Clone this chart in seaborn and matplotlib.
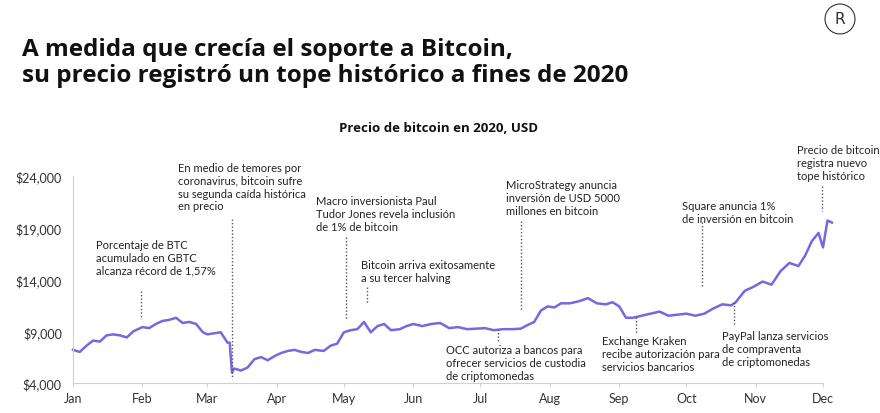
import matplotlib
matplotlib.use("Agg")
import matplotlib.pyplot as plt
import seaborn as sns
import pandas as pd
from matplotlib.lines import Line2D
from matplotlib.patches import Ellipse

# day-of-year (0 = Jan 1) and price
days = [0,3,6,9,12,15,18,21,24,27,31,34,37,40,43,46,49,52,55,58,60,63,66,69,70,71,72,75,78,81,84,87,90,93,96,99,102,105,108,112,115,118,121,124,127,130,133,136,139,142,146,149,152,156,160,164,168,172,176,180,184,188,192,196,200,203,206,209,212,215,218,222,226,230,234,238,241,244,247,250,254,258,262,266,270,274,278,282,286,290,294,296,300,304,308,312,316,320,324,327,330,333,335,337,339]
prices = [7200,7000,7600,8100,8000,8600,8700,8600,8400,9000,9400,9300,9700,10000,10100,10300,9800,9900,9700,8900,8700,8800,8900,7900,7900,5000,5400,5200,5500,6300,6500,6200,6600,6900,7100,7200,7000,6900,7200,7100,7600,7800,8900,9100,9200,9900,8900,9500,9700,9100,9200,9500,9700,9500,9700,9800,9300,9400,9200,9250,9300,9100,9200,9200,9250,9600,9900,11000,11400,11300,11700,11700,11900,12200,11700,11600,11800,11400,10300,10300,10500,10700,10900,10500,10600,10700,10500,10700,11200,11600,11500,11800,12900,13300,13800,13500,14800,15600,15300,16300,17700,18500,17100,19700,19500]
n = min(len(days), len(prices))
days, prices = days[:n], prices[:n]

month_labels = ["Jan","Feb","Mar","Apr","May","Jun","Jul","Aug","Sep","Oct","Nov","Dec"]
month_days = [0,31,60,91,121,152,182,213,244,274,305,335]
y_ticks = [4000,9000,14000,19000,24000]

FONT = "Lato"
W, H = 880, 414
fig = plt.figure(figsize=(8.8, 4.14), dpi=100)
x0, x1 = 73, 823
ytop = 140
ax = fig.add_axes([x0/W, 1-384/H, (x1-x0)/W, (384-ytop)/H])
df = pd.DataFrame({"d": days, "p": prices})
sns.lineplot(data=df, x="d", y="p", ax=ax, color="#7A66DE", linewidth=1.8)
ax.set_xlim(0, 335)
ax.set_ylim(4000, 4000 + (384-ytop)/207*20000)
ax.set_xlabel(""); ax.set_ylabel("")
ax.set_xticks(month_days)
ax.set_xticklabels(month_labels, fontfamily=FONT, fontsize=9)
ax.set_yticks(y_ticks)
ax.set_yticklabels([f"${v:,}" for v in y_ticks], fontfamily=FONT, fontsize=9)
for s in ["top", "right"]:
    ax.spines[s].set_visible(False)
ax.spines["left"].set_bounds(4000, 24000)
for s in ["left", "bottom"]:
    ax.spines[s].set_color("#d0d0d0")
ax.tick_params(axis="both", length=3, color="#d0d0d0", labelcolor="#333333")
ax.tick_params(axis="y", length=0, pad=8)
for line in ax.get_lines():
    line.set_clip_on(False)

fig.text(22/W, 1-38/H, "A medida que crecía el soporte a Bitcoin,\nsu precio registró un tope histórico a fines de 2020",
         fontfamily="Open Sans", fontweight="bold", fontsize=17.5, va="top", ha="left", linespacing=1.1, color="#111111")
fig.text(438/W, 1-128/H, "Precio de bitcoin en 2020, USD", fontfamily="Open Sans", fontweight="bold",
         fontsize=9.5, ha="center", va="center", color="#111111")

# logo
fig.patches.append(Ellipse((840/W, 1-20/H), 30/W, 30/H, transform=fig.transFigure, fill=False, lw=0.8,
                           ec="#333333", figure=fig))
fig.text(840/W, 1-20/H, "R", fontfamily="DejaVu Sans", fontsize=11, ha="center", va="center", color="#333333")

notes = [
    ("Porcentaje de BTC\nacumulado en GBTC\nalcanza récord de 1,57%", 96, 240, 141, 292, 320),
    ("En medio de temores por\ncoronavirus, bitcoin sufre\nsu segunda caída histórica\nen precio", 178, 163, 232, 220, 380),
    ("Macro inversionista Paul\nTudor Jones revela inclusión\nde 1% de bitcoin", 316, 196, 346, 238, 320),
    ("Bitcoin arriva exitosamente\na su tercer halving", 361, 260, 367, 288, 305),
    ("OCC autoriza a bancos para\nofrecer servicios de custodia\nde criptomonedas", 446, 345, 498, 330, 342),
    ("MicroStrategy anuncia\ninversión de USD 5000\nmillones en bitcoin", 506, 180, 521, 222, 312),
    ("Exchange Kraken\nrecibe autorización para\nservicios bancarios", 602, 336, 636, 318, 334),
    ("Square anuncia 1%\nde inversión en bitcoin", 682, 201, 702, 223, 288),
    ("PayPal lanza servicios\nde compraventa\nde criptomonedas", 722, 331, 734, 303, 327),
    ("Precio de bitcoin\nregistra nuevo\ntope histórico", 797, 145, 822, 187, 212),
]
for txt, tx, ty, lx, ly0, ly1 in notes:
    fig.text(tx/W, 1-ty/H, txt, fontfamily=FONT, fontsize=8, va="top", ha="left", linespacing=1.2, color="#222222")
    fig.add_artist(Line2D([lx/W, lx/W], [1-ly0/H, 1-ly1/H], transform=fig.transFigure,
                          color="#555555", lw=1, linestyle=(0, (1, 1.5))))

fig.savefig("out.png", dpi=100)
